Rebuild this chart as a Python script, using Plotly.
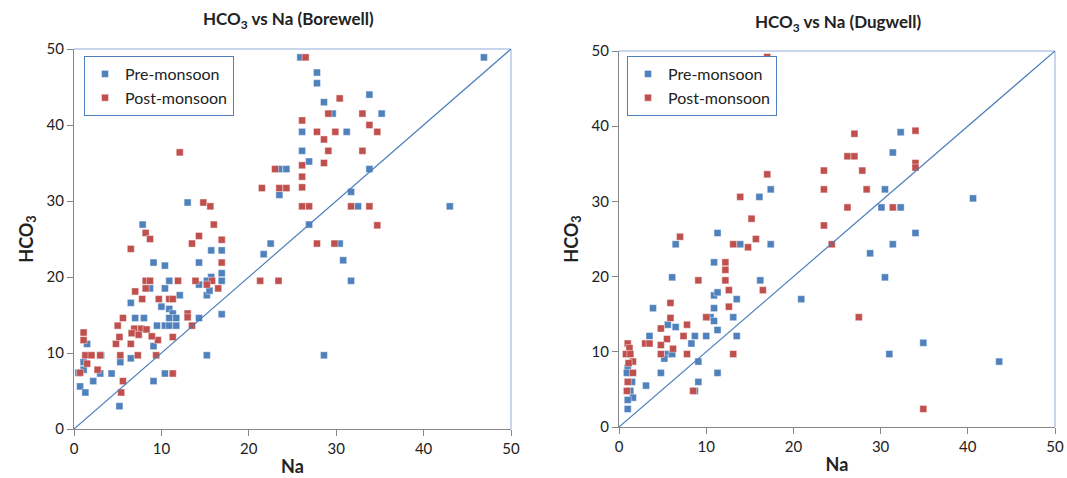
import plotly.graph_objects as go

# ---------------- Data ----------------
bore_pre_na = [11.7, 13.0, 7.85, 23.5, 24.3, 23.5, 25.9, 46.9, 27.8, 27.8, 33.8, 28.6, 29.6, 35.2,
               26.1, 31.2, 26.1, 26.9, 33.8, 31.7, 32.5, 43.0, 26.9, 30.4, 30.8, 31.7, 28.6,
               15.7, 16.9, 9.1, 10.4, 14.3, 16.9, 15.7, 10.9, 16.9, 14.3, 15.2, 8.7, 10.4, 12.1,
               6.5, 10.0, 10.9, 11.3, 10.9, 11.7, 7.0, 8.0, 9.5, 10.4, 10.9, 11.7, 1.5, 9.1, 3.1,
               6.5, 15.2, 5.3, 1.1, 1.1, 0.5, 3.0, 4.3, 10.4, 2.2, 9.1, 0.7, 1.3, 5.2, 22.5, 21.7,
               16.9, 14.3, 15.2, 15.5]
bore_pre_hco3 = [44.0, 29.8, 26.9, 34.2, 34.2, 30.8, 48.9, 48.9, 46.9, 45.5, 44.0, 43.0, 41.5, 41.5,
                 39.1, 39.1, 36.6, 35.2, 34.2, 31.2, 29.3, 29.3, 26.9, 24.4, 22.2, 19.5, 9.7,
                 23.5, 23.5, 21.9, 21.5, 21.9, 20.5, 20.0, 19.5, 19.5, 19.0, 19.5, 18.5, 18.5, 17.6,
                 16.6, 16.1, 15.8, 15.2, 14.6, 14.6, 14.6, 14.6, 13.6, 13.6, 13.6, 13.6, 11.2, 10.9, 9.7,
                 9.3, 9.7, 8.8, 8.8, 7.8, 7.4, 7.3, 7.3, 7.3, 6.3, 6.3, 5.6, 4.8, 3.0, 24.4, 23.0,
                 15.1, 14.6, 17.6, 18.2]

bore_post_na = [26.5, 30.4, 29.1, 33.0, 26.1, 33.8, 27.8, 29.9, 34.7, 28.6, 29.1, 33.0, 28.6, 26.1,
                26.1, 23.5, 24.3, 26.1, 26.1, 26.9, 31.7, 33.8, 34.7, 27.8, 29.8, 23.4, 21.3, 23.0, 21.5,
                12.1, 14.8, 15.6, 16.0, 8.2, 8.7, 14.3, 13.5, 16.9, 6.5, 16.9, 11.9, 13.9, 15.8, 15.2,
                16.5, 8.2, 8.7, 8.2, 7.0, 7.8, 9.7, 10.9, 11.3, 13.0, 13.0, 5.6, 13.5, 5.0, 1.1, 1.1,
                4.8, 6.5, 9.6, 11.3, 5.2, 6.9, 7.7, 6.6, 7.4, 8.3, 8.9, 1.3, 2.0, 3.0, 5.3, 7.3, 9.4,
                1.5, 2.7, 0.7, 11.3, 5.6, 5.4]
bore_post_hco3 = [48.9, 43.5, 41.5, 41.5, 40.6, 40.0, 39.1, 39.1, 39.1, 38.1, 36.6, 36.6, 35.0, 34.7,
                  33.2, 31.7, 31.7, 31.8, 29.3, 29.3, 29.3, 29.3, 26.8, 24.4, 24.4, 19.5, 19.5, 34.2, 31.7,
                  36.4, 29.8, 29.3, 26.9, 25.8, 25.0, 25.4, 24.4, 24.9, 23.7, 21.9, 19.5, 19.5, 19.5, 19.0,
                  18.5, 19.5, 19.5, 18.5, 18.1, 17.1, 17.1, 17.1, 17.1, 15.2, 14.7, 14.6, 13.6, 13.6, 12.7, 11.7,
                  11.2, 11.2, 11.7, 12.1, 12.1, 13.2, 13.2, 12.6, 12.4, 13.1, 12.2, 9.7, 9.7, 9.7, 9.7, 9.7, 9.7,
                  8.6, 7.8, 7.4, 7.3, 6.3, 4.8]

dug_pre_na = [17.4, 16.1, 11.3, 32.3, 31.4, 30.5, 30.1, 32.3, 40.6, 34.0, 31.4, 28.8, 30.5, 34.9,
              31.0, 43.6, 6.5, 13.9, 17.4, 10.9, 6.1, 16.2, 10.9, 11.3, 20.9, 13.5, 3.9, 10.9, 10.5,
              10.9, 5.6, 6.5, 11.3, 3.5, 8.7, 10.0, 13.5, 13.1, 8.3, 5.6, 6.1, 5.2, 9.1, 1.0, 0.9,
              4.8, 11.3, 1.5, 9.1, 3.1, 1.3, 8.7, 1.6, 1.0, 1.0]
dug_pre_hco3 = [31.6, 30.6, 25.8, 39.2, 36.5, 31.6, 29.2, 29.2, 30.4, 25.8, 24.3, 23.1, 19.9, 11.2,
                9.7, 8.7, 24.3, 24.3, 24.3, 21.9, 19.9, 19.5, 17.5, 17.9, 17.0, 17.0, 15.8, 15.8, 14.6,
                14.1, 13.6, 13.3, 12.9, 12.1, 12.1, 12.1, 12.1, 14.6, 11.1, 9.7, 9.7, 9.1, 8.7, 7.9, 7.2,
                7.2, 7.2, 6.0, 6.0, 5.5, 4.8, 4.8, 3.9, 3.6, 2.4]

dug_post_na = [17.0, 17.0, 13.9, 15.2, 7.0, 15.7, 23.5, 23.5, 23.5, 27.0, 34.0, 26.2, 27.0, 27.9,
               34.0, 34.0, 28.4, 26.2, 31.4, 24.4, 27.5, 34.9, 13.1, 14.8, 12.2, 12.2, 12.2, 9.1,
               12.6, 16.5, 5.9, 12.6, 5.9, 10.0, 7.8, 4.8, 7.4, 5.5, 3.0, 3.5, 1.0, 4.8, 1.2, 6.2,
               0.8, 1.3, 4.8, 7.8, 13.1, 1.6, 1.1, 1.6, 1.0, 0.9, 8.5]
dug_post_hco3 = [49.2, 33.6, 30.6, 27.7, 25.3, 25.0, 34.1, 31.6, 26.8, 39.0, 39.4, 36.0, 36.0, 34.1,
                 35.1, 34.5, 31.6, 29.2, 29.2, 24.3, 14.6, 2.4, 24.3, 23.9, 21.9, 20.9, 19.5, 19.5,
                 18.2, 18.2, 16.5, 16.0, 14.5, 14.6, 13.6, 13.1, 12.1, 11.7, 11.1, 11.1, 11.1, 10.9, 10.5, 10.4,
                 9.7, 9.7, 9.7, 9.7, 9.7, 8.7, 8.5, 7.2, 6.0, 4.8, 4.8]

line_xy = [0, 50]
ticks = [0, 10, 20, 30, 40, 50]
titles = ["HCO<sub>3</sub> vs Na (Borewell)", "HCO<sub>3</sub> vs Na (Dugwell)"]
series_names = ["Pre-monsoon", "Post-monsoon"]

# ---------------- Styling ----------------
FONT = "Lato, Open Sans, sans-serif"
BLUE = "#4f81bd"
RED = "#c0504d"
LINE = "#4a7ebb"
AXIS = "#868686"
FRAME = "#b4c7e7"
W, H = 1067, 478

def px_x(p):
    return p / W

def px_y(p):
    return 1 - p / H

fig = go.Figure()

def mk(color):
    return dict(symbol="square", size=7, color=color,
                line=dict(width=0.6, color="rgba(255,255,255,0.7)"))

panels = [
    (bore_pre_na, bore_pre_hco3, bore_post_na, bore_post_hco3, "x", "y", "legend"),
    (dug_pre_na, dug_pre_hco3, dug_post_na, dug_post_hco3, "x2", "y2", "legend2"),
]
for (pxv, pyv, qxv, qyv, xa, ya, lg) in panels:
    fig.add_trace(go.Scatter(x=pxv, y=pyv, mode="markers", name=series_names[0],
                             marker=mk(BLUE), xaxis=xa, yaxis=ya, legend=lg, cliponaxis=False))
    fig.add_trace(go.Scatter(x=qxv, y=qyv, mode="markers", name=series_names[1],
                             marker=mk(RED), xaxis=xa, yaxis=ya, legend=lg, cliponaxis=False))
    fig.add_trace(go.Scatter(x=line_xy, y=line_xy, mode="lines", showlegend=False,
                             line=dict(color=LINE, width=1.2), xaxis=xa, yaxis=ya,
                             hoverinfo="skip"))

xd1 = [px_x(74), px_x(511)]
yd1 = [px_y(429), px_y(49)]
xd2 = [px_x(619), px_x(1055)]
yd2 = [px_y(427), px_y(51)]

def xaxis(domain, anchor):
    return dict(domain=domain, anchor=anchor, range=[0, 50], tickvals=ticks, automargin=False,
                showgrid=False, zeroline=False, showline=True, linecolor=AXIS, linewidth=1.3,
                ticks="outside", ticklen=6, tickcolor=AXIS, tickwidth=1.3,
                tickfont=dict(family=FONT, size=15, color="#222"),
                title=dict(text="<b>Na</b>", font=dict(family=FONT, size=18, color="#222"), standoff=4))

def yaxis(domain, anchor):
    return dict(domain=domain, anchor=anchor, range=[0, 50], tickvals=ticks, automargin=False,
                showgrid=False, zeroline=False, showline=True, linecolor=AXIS, linewidth=1.3,
                ticks="outside", ticklen=6, tickcolor=AXIS, tickwidth=1.3,
                tickfont=dict(family=FONT, size=15, color="#222"),
                title=dict(text="<b>HCO<sub>3</sub></b>", font=dict(family=FONT, size=18, color="#222"),
                           standoff=8))

leg_common = dict(xanchor="left", yanchor="top", bordercolor=BLUE, borderwidth=1,
                  bgcolor="white", font=dict(family=FONT, size=16, color="#222"),
                  tracegroupgap=0, itemwidth=30)

fig.update_layout(
    width=W, height=H,
    margin=dict(l=0, r=0, t=0, b=0, autoexpand=False),
    paper_bgcolor="white", plot_bgcolor="white",
    font=dict(family=FONT, color="#222"),
    xaxis=xaxis(xd1, "y"), yaxis=yaxis(yd1, "x"),
    xaxis2=xaxis(xd2, "y2"), yaxis2=yaxis(yd2, "x2"),
    legend=dict(x=px_x(84), y=px_y(56), **leg_common),
    legend2=dict(x=px_x(627), y=px_y(56), **leg_common),
    showlegend=True,
)

# top / right frame lines (light blue)
for xr, yr in [("x domain", "y domain"), ("x2 domain", "y2 domain")]:
    fig.add_shape(type="line", xref=xr, yref=yr, x0=0, x1=1, y0=1, y1=1,
                  line=dict(color=FRAME, width=1.5), layer="below")
    fig.add_shape(type="line", xref=xr, yref=yr, x0=1, x1=1, y0=0, y1=1,
                  line=dict(color=FRAME, width=1.5), layer="below")

# panel titles
fig.add_annotation(text="<b>" + titles[0] + "</b>", xref="paper", yref="paper",
                   x=px_x(288), y=px_y(20), xanchor="center", yanchor="middle", showarrow=False,
                   font=dict(family=FONT, size=17, color="#222"))
fig.add_annotation(text="<b>" + titles[1] + "</b>", xref="paper", yref="paper",
                   x=px_x(838), y=px_y(23), xanchor="center", yanchor="middle", showarrow=False,
                   font=dict(family=FONT, size=17, color="#222"))

fig.write_html("out.html", config={"displayModeBar": False},
               post_script="document.body.style.margin='0';document.body.style.overflow='hidden';")
